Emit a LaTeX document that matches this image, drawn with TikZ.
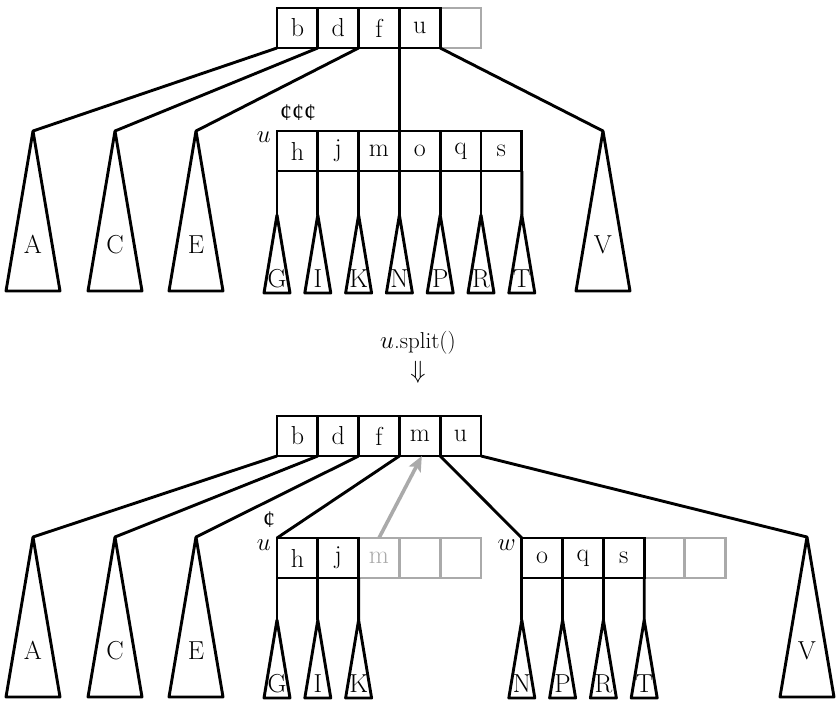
\documentclass[tikz,border=0pt]{standalone}
\usepackage{fontspec}
\newfontfamily\centfont{Liberation Serif}
\usetikzlibrary{arrows.meta}
\definecolor{gcol}{RGB}{170,170,170}
\newcommand\bigtree[4]{%
  \coordinate (#1) at (#2,#3);
  \draw[tri] (#1) -- ++(27,160) -- ++(-54,0) -- cycle;
  \node[lab] (#1l) at (#2,#3+122) {#4};}
\newcommand\smalltree[4]{%
  \coordinate (#1) at (#2,#3);
  \draw[tri] (#1) -- ++(13,78) -- ++(-26,0) -- cycle;
  \node[lab] (#1l) at (#2,#3+72) {#4};}
\begin{document}
\begin{tikzpicture}[x=1pt,y=-1pt,
  every node/.style={font=\fontsize{26}{30}\selectfont},
  cell/.style={draw,line width=2.9pt,minimum width=40.8pt,minimum height=40pt,inner sep=0pt,outer sep=0pt,anchor=north west},
  ghost/.style={cell,draw=gcol,text=gcol},
  edge/.style={line width=2.9pt},
  tri/.style={line width=2.9pt,line join=round},
  lab/.style={anchor=base,inner sep=0pt},
  centlab/.style={font=\centfont\fontsize{24}{28}\selectfont,inner sep=0pt}]
\useasboundingbox (0,0) rectangle (836,704);

% ---------------- top picture ----------------
\node[ghost] (t5) at (440.2,8) {};
\node[cell] (t1) at (277,8) {b};
\node[cell] (t2) at (317.8,8) {d};
\node[cell] (t3) at (358.6,8) {f};
\node[cell] (t4) at (399.4,8) {u};

\node[cell] (u1) at (277,131) {h};
\node[cell] (u2) at (317.8,131) {j};
\node[cell] (u3) at (358.6,131) {m};
\node[cell] (u4) at (399.4,131) {o};
\node[cell] (u5) at (440.2,131) {q};
\node[cell] (u6) at (481,131) {s};
\node[anchor=east,inner sep=0pt] (ulab) at (271,137) {$u$};
\node[centlab] (cents) at (298,113) {¢¢¢};

\bigtree{A}{33}{131}{A}
\bigtree{C}{115}{131}{C}
\bigtree{E}{196}{131}{E}
\bigtree{V}{603}{131}{V}
\draw[edge] (t1.south west) -- (A);
\draw[edge] (t2.south west) -- (C);
\draw[edge] (t3.south west) -- (E);
\draw[edge] (t4.south west) -- (u4.north west);
\draw[edge] (t4.south east) -- (V);

\smalltree{G}{277}{215}{G}
\smalltree{I}{317.8}{215}{I}
\smalltree{K}{358.6}{215}{K}
\smalltree{N}{399.4}{215}{N}
\smalltree{P}{440.2}{215}{P}
\smalltree{R}{481}{215}{R}
\smalltree{T}{521.8}{215}{T}
\draw[edge] (u1.south west) -- (G);
\draw[edge] (u2.south west) -- (I);
\draw[edge] (u3.south west) -- (K);
\draw[edge] (u4.south west) -- (N);
\draw[edge] (u5.south west) -- (P);
\draw[edge] (u6.south west) -- (R);
\draw[edge] (u6.south east) -- (T);

% ---------------- middle ----------------
\node[font=\fontsize{23}{27}\selectfont] (op) at (418,343) {$u$.split()};
\node[font=\fontsize{23}{27}\selectfont] (dn) at (418,372) {$\Downarrow$};

% ---------------- bottom picture ----------------
\node[cell] (b1) at (277,416) {b};
\node[cell] (b2) at (317.8,416) {d};
\node[cell] (b3) at (358.6,416) {f};
\node[cell] (b4) at (399.4,416) {m};
\node[cell] (b5) at (440.2,416) {u};

\node[ghost] (v3) at (358.6,538) {m};
\node[ghost] (v4) at (399.4,538) {};
\node[ghost] (v5) at (440.2,538) {};
\node[cell] (v1) at (277,538) {h};
\node[cell] (v2) at (317.8,538) {j};
\node[anchor=east,inner sep=0pt] (vlab) at (271,545) {$u$};
\node[centlab] (cent) at (269,520) {¢};

\node[ghost] (w4) at (644,538) {};
\node[ghost] (w5) at (684.8,538) {};
\node[cell] (w1) at (521.8,538) {o};
\node[cell] (w2) at (562.6,538) {q};
\node[cell] (w3) at (603.4,538) {s};
\node[anchor=east,inner sep=0pt] (wlab) at (516,545) {$w$};

\bigtree{A2}{33}{537}{A}
\bigtree{C2}{115}{537}{C}
\bigtree{E2}{196}{537}{E}
\bigtree{V2}{807}{537}{V}
\draw[edge] (b1.south west) -- (A2);
\draw[edge] (b2.south west) -- (C2);
\draw[edge] (b3.south west) -- (E2);
\draw[edge] (b4.south west) -- (v1.north west);
\draw[edge] (b5.south west) -- (w1.north west);
\draw[edge] (b5.south east) -- (V2);

\smalltree{G2}{277}{620}{G}
\smalltree{I2}{317.8}{620}{I}
\smalltree{K2}{358.6}{620}{K}
\draw[edge] (v1.south west) -- (G2);
\draw[edge] (v2.south west) -- (I2);
\draw[edge] (v2.south east) -- (K2);

\smalltree{N2}{521.8}{620}{N}
\smalltree{P2}{562.6}{620}{P}
\smalltree{R2}{603.4}{620}{R}
\smalltree{T2}{644.2}{620}{T}
\draw[edge] (w1.south west) -- (N2);
\draw[edge] (w2.south west) -- (P2);
\draw[edge] (w3.south west) -- (R2);
\draw[edge] (w3.south east) -- (T2);

\draw[gcol,line width=3.6pt,-{Stealth[length=15pt,width=13pt,inset=3pt]}]
  (v3.north) -- ([xshift=2pt]b4.south);
\end{tikzpicture}
\end{document}
